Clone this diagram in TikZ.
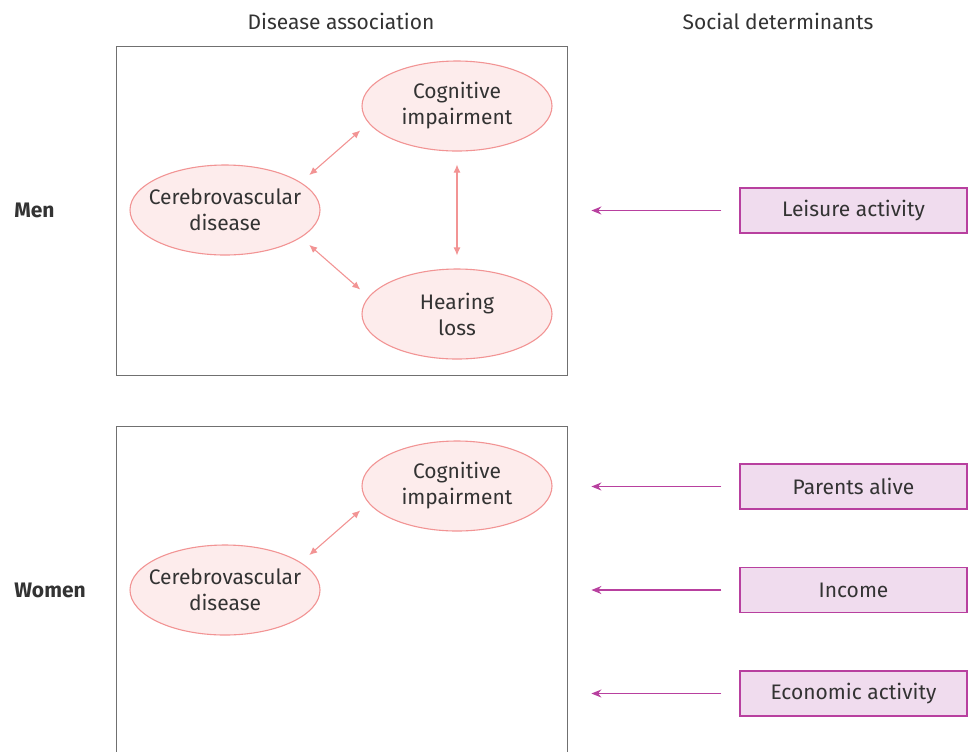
\documentclass[tikz,border=0pt]{standalone}
\usepackage{fontspec}
\setmainfont{Fira Sans}
\usetikzlibrary{arrows.meta,shapes.geometric}
\definecolor{dzfill}{HTML}{FDECEC}
\definecolor{dzline}{HTML}{F29494}
\definecolor{sdfill}{HTML}{F0DCEE}
\definecolor{sdline}{HTML}{B8409F}
\definecolor{panelgray}{HTML}{707070}
\definecolor{txt}{HTML}{333333}
\begin{document}
\begin{tikzpicture}[x=0.5pt, y=-0.5pt, every node/.style={text=txt, font=\fontsize{10.5}{13}\selectfont},
  panel/.style={draw=panelgray, line width=0.7pt, minimum width=225.5pt, anchor=north west, inner sep=0pt},
  disease/.style={ellipse, draw=dzline, fill=dzfill, line width=0.55pt, minimum width=95pt, minimum height=45pt, align=center, inner xsep=-6pt, inner ysep=0pt},
  determ/.style={draw=sdline, fill=sdfill, line width=0.6pt, minimum width=113.5pt, minimum height=22.5pt, inner sep=0pt},
  assoc/.style={{Latex[length=4pt,width=3.5pt]}-{Latex[length=4pt,width=3.5pt]}, dzline, line width=0.55pt},
  effect/.style={-{Stealth[length=5pt,width=4pt]}, sdline, line width=0.65pt, shorten <=9pt, shorten >=11.5pt}]

\clip (0,0) rectangle (975,751);

% column titles
\node (dztitle) at (341,21) {Disease association};
\node (sdtitle) at (778,21) {Social determinants};

% panels
\node[panel, minimum height=164.5pt] (menbox) at (116,46) {};
\node[panel, minimum height=200pt] (wombox) at (116,426) {};

\node[anchor=west, inner sep=0pt, font=\fontsize{10.5}{13}\selectfont\bfseries] (men) at (14,210) {Men};
\node[anchor=west, inner sep=0pt, font=\fontsize{10.5}{13}\selectfont\bfseries] (women) at (14,590) {Women};

% men
\node[disease] (mcog) at (457,106) {Cognitive\\impairment};
\node[disease] (mcer) at (225,210) {Cerebrovascular\\disease};
\node[disease] (mhear) at (457,314) {Hearing\\loss};

\draw[assoc, shorten <=5.5pt, shorten >=5.5pt] (mcer.20) -- (mcog.191);
\draw[assoc, shorten <=5.5pt, shorten >=5.5pt] (mcer.-20) -- (mhear.169);
\draw[assoc, shorten <=6.5pt, shorten >=6.5pt] (mcog.south) -- (mhear.north);

% women
\node[disease] (wcog) at (457,486) {Cognitive\\impairment};
\node[disease] (wcer) at (225,590) {Cerebrovascular\\disease};

\draw[assoc, shorten <=5.5pt, shorten >=5.5pt] (wcer.20) -- (wcog.191);

% social determinants
\node[determ] (leisure) at (853.5,210.5) {Leisure activity};
\node[determ] (parents) at (853.5,486.5) {Parents alive};
\node[determ] (income) at (853.5,590) {Income};
\node[determ] (econ) at (853.5,693.5) {Economic activity};

\draw[effect] (leisure) -- (leisure -| menbox.east);
\draw[effect] (parents) -- (parents -| wombox.east);
\draw[effect] (income) -- (income -| wombox.east);
\draw[effect] (econ) -- (econ -| wombox.east);

\end{tikzpicture}
\end{document}
